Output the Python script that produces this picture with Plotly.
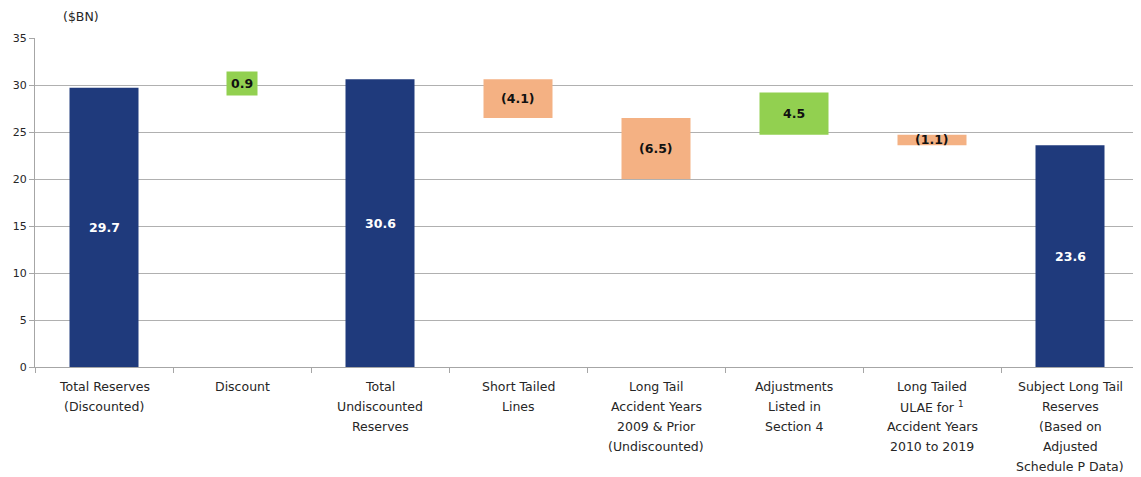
import plotly.graph_objects as go

categories = [
    "Total Reserves<br>(Discounted)",
    "Discount",
    "Total<br>Undiscounted<br>Reserves",
    "Short Tailed<br>Lines",
    "Long Tail<br>Accident Years<br>2009 & Prior<br>(Undiscounted)",
    "Adjustments<br>Listed in<br>Section 4",
    "Long Tailed<br>ULAE for <sup>1</sup><br>Accident Years<br>2010 to 2019",
    "Subject Long Tail<br>Reserves<br>(Based on<br>Adjusted<br>Schedule P Data)",
]
values = [29.7, 0.9, 30.6, -4.1, -6.5, 4.5, -1.1, 23.6]
bar_base = [0, 29.7, 0, 30.6, 26.5, 24.7, 24.7, 0]
kinds = ["total", "up", "total", "down", "down", "up", "down", "total"]
value_labels = ["29.7", "0.9", "30.6", "(4.1)", "(6.5)", "4.5", "(1.1)", "23.6"]

NAVY = "#1F3A7C"
GREEN = "#92D050"
ORANGE = "#F4B183"
FONT = "'DejaVu Sans', sans-serif"
TXT = "#262626"

colors = {"total": NAVY, "up": GREEN, "down": ORANGE}

fig = go.Figure()
for kind in ["total", "up", "down"]:
    xs, ys, bs, ws = [], [], [], []
    for c, v, b, k in zip(categories, values, bar_base, kinds):
        if k == kind:
            xs.append(c)
            ys.append(v)
            bs.append(b)
            ws.append(0.2 if c == "Discount" else 0.5)
    fig.add_trace(go.Bar(
        x=xs, y=ys, base=bs, width=ws, marker_color=colors[kind],
        marker_line_width=0, showlegend=False, hoverinfo="skip",
    ))

# value labels
for c, v, b, k, lab in zip(categories, values, bar_base, kinds, value_labels):
    mid = b + v / 2
    ann = dict(x=c, y=mid, text="<b>" + lab + "</b>", showarrow=False,
               font=dict(family=FONT, size=12.5,
                         color="white" if k == "total" else "#111111"))
    if c == "Discount":
        ann.update(bgcolor=GREEN, borderpad=4)
    fig.add_annotation(**ann)

# category labels (one line per annotation for Excel-like line spacing)
for c in categories:
    for i, line in enumerate(c.split("<br>")):
        fig.add_annotation(x=c, y=0, yref="y", text=line, showarrow=False,
                           yanchor="top", yshift=-10 - 20 * i,
                           font=dict(family=FONT, size=12.5, color=TXT))

fig.add_annotation(text="($BN)", xref="paper", yref="paper", x=0.024, y=1.0,
                   xanchor="left", yanchor="bottom", yshift=12, showarrow=False,
                   font=dict(family=FONT, size=12.5, color=TXT))

fig.update_layout(
    width=1133, height=469,
    margin=dict(l=27, r=2, t=30, b=110, autoexpand=False),
    plot_bgcolor="white", paper_bgcolor="white",
    font=dict(family=FONT, size=12.5, color=TXT),
    bargap=0.5, barmode="overlay",
)
fig.update_xaxes(
    categoryorder="array", categoryarray=categories,
    showline=True, linecolor="#A6A6A6", linewidth=1,
    ticks="outside", tickson="boundaries", ticklen=5, tickcolor="#A6A6A6",
    showticklabels=False, showgrid=False, automargin=False,
)
fig.update_yaxes(
    range=[0, 35], dtick=5, showgrid=True, gridcolor="#B0B0B0", gridwidth=1,
    showline=True, linecolor="#A6A6A6", ticks="outside", ticklen=5,
    tickcolor="#A6A6A6", tickfont=dict(family=FONT, size=11, color=TXT),
    zeroline=False, automargin=False,
)

fig.write_html("out.html")
